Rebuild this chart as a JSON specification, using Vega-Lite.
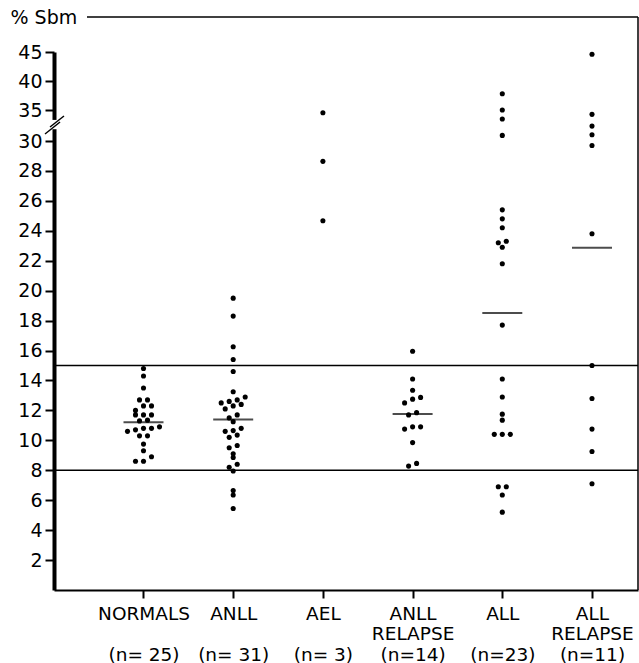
{
  "$schema": "https://vega.github.io/schema/vega-lite/v6.json",
  "width": 584,
  "height": 573,
  "autosize": {"type": "none"},
  "padding": {"left": 54, "top": 17, "right": 1, "bottom": 73},
  "background": "white",
  "config": {
    "view": {"stroke": null},
    "font": "DejaVu Sans",
    "axis": {"ticks": true, "tickOpacity": 1, "tickColor": "#000000", "tickWidth": 2, "domainColor": "#000000"},
    "axisY": {
      "values": [2, 4, 6, 8, 10, 12, 14, 16, 18, 20, 22, 24, 26, 28, 30, 35, 40, 45],
      "labelOverlap": false, "labelBound": false, "labelFlush": false, "labelSeparation": 0, "grid": false,
      "titleAngle": 0, "titleX": -44, "titleY": 0, "titleAlign": "left", "titleBaseline": "middle",
      "titleFont": "DejaVu Sans", "titleFontSize": 19, "titleFontWeight": "normal", "titleColor": "black",
      "labelFont": "DejaVu Sans", "labelFontSize": 19, "labelColor": "black", "labelPadding": 3,
      "ticks": true, "tickSize": 9, "tickWidth": 2, "tickColor": "#000000", "tickOpacity": 1, "domainColor": "black", "domainWidth": 4
    },
    "axisX": {"labelOverlap": false, "labelBound": false, "labelFlush": false, "labelSeparation": 0, "grid": false,
              "labelFont": "DejaVu Sans", "labelFontSize": 18.5, "labelColor": "black", "labelAngle": 0}
  },
  "datasets": {
    "pts": [
      {"cat": "NORMALS", "v": 14.8}, {"cat": "NORMALS", "v": 14.3}, {"cat": "NORMALS", "v": 13.5},
      {"cat": "NORMALS", "v": 12.7}, {"cat": "NORMALS", "v": 12.7}, {"cat": "NORMALS", "v": 12.3},
      {"cat": "NORMALS", "v": 12.3}, {"cat": "NORMALS", "v": 12.0}, {"cat": "NORMALS", "v": 11.7},
      {"cat": "NORMALS", "v": 11.7}, {"cat": "NORMALS", "v": 11.7}, {"cat": "NORMALS", "v": 11.35},
      {"cat": "NORMALS", "v": 11.3}, {"cat": "NORMALS", "v": 10.8}, {"cat": "NORMALS", "v": 10.6},
      {"cat": "NORMALS", "v": 10.8}, {"cat": "NORMALS", "v": 10.7}, {"cat": "NORMALS", "v": 10.9},
      {"cat": "NORMALS", "v": 10.3}, {"cat": "NORMALS", "v": 10.3}, {"cat": "NORMALS", "v": 9.75},
      {"cat": "NORMALS", "v": 9.3}, {"cat": "NORMALS", "v": 8.9}, {"cat": "NORMALS", "v": 8.6},
      {"cat": "NORMALS", "v": 8.6},
      {"cat": "ANLL", "v": 19.5}, {"cat": "ANLL", "v": 18.3}, {"cat": "ANLL", "v": 16.25},
      {"cat": "ANLL", "v": 15.4}, {"cat": "ANLL", "v": 14.6}, {"cat": "ANLL", "v": 13.25},
      {"cat": "ANLL", "v": 12.9}, {"cat": "ANLL", "v": 12.7}, {"cat": "ANLL", "v": 12.6},
      {"cat": "ANLL", "v": 12.5}, {"cat": "ANLL", "v": 12.4}, {"cat": "ANLL", "v": 12.3},
      {"cat": "ANLL", "v": 12.1}, {"cat": "ANLL", "v": 11.7}, {"cat": "ANLL", "v": 11.5},
      {"cat": "ANLL", "v": 11.25}, {"cat": "ANLL", "v": 10.8}, {"cat": "ANLL", "v": 10.65},
      {"cat": "ANLL", "v": 10.6}, {"cat": "ANLL", "v": 10.35}, {"cat": "ANLL", "v": 10.2},
      {"cat": "ANLL", "v": 9.65}, {"cat": "ANLL", "v": 9.5}, {"cat": "ANLL", "v": 9.1},
      {"cat": "ANLL", "v": 8.85}, {"cat": "ANLL", "v": 8.4}, {"cat": "ANLL", "v": 8.2},
      {"cat": "ANLL", "v": 7.95}, {"cat": "ANLL", "v": 6.65}, {"cat": "ANLL", "v": 6.35},
      {"cat": "ANLL", "v": 5.45},
      {"cat": "AEL", "v": 34.56}, {"cat": "AEL", "v": 28.64}, {"cat": "AEL", "v": 24.67},
      {"cat": "ANLL RELAPSE", "v": 15.95}, {"cat": "ANLL RELAPSE", "v": 14.1}, {"cat": "ANLL RELAPSE", "v": 13.35},
      {"cat": "ANLL RELAPSE", "v": 12.87}, {"cat": "ANLL RELAPSE", "v": 12.75}, {"cat": "ANLL RELAPSE", "v": 12.5},
      {"cat": "ANLL RELAPSE", "v": 11.85}, {"cat": "ANLL RELAPSE", "v": 11.7}, {"cat": "ANLL RELAPSE", "v": 10.9},
      {"cat": "ANLL RELAPSE", "v": 10.75}, {"cat": "ANLL RELAPSE", "v": 10.9}, {"cat": "ANLL RELAPSE", "v": 9.85},
      {"cat": "ANLL RELAPSE", "v": 8.46}, {"cat": "ANLL RELAPSE", "v": 8.28},
      {"cat": "ALL", "v": 37.8}, {"cat": "ALL", "v": 35.0}, {"cat": "ALL", "v": 33.55},
      {"cat": "ALL", "v": 30.9}, {"cat": "ALL", "v": 25.4}, {"cat": "ALL", "v": 24.8},
      {"cat": "ALL", "v": 24.2}, {"cat": "ALL", "v": 23.3}, {"cat": "ALL", "v": 23.2},
      {"cat": "ALL", "v": 22.9}, {"cat": "ALL", "v": 21.8}, {"cat": "ALL", "v": 17.7},
      {"cat": "ALL", "v": 14.1}, {"cat": "ALL", "v": 12.9}, {"cat": "ALL", "v": 11.75},
      {"cat": "ALL", "v": 11.35}, {"cat": "ALL", "v": 10.4}, {"cat": "ALL", "v": 10.4},
      {"cat": "ALL", "v": 10.4}, {"cat": "ALL", "v": 6.9}, {"cat": "ALL", "v": 6.9},
      {"cat": "ALL", "v": 6.35}, {"cat": "ALL", "v": 5.2},
      {"cat": "ALL RELAPSE", "v": 44.6}, {"cat": "ALL RELAPSE", "v": 34.3}, {"cat": "ALL RELAPSE", "v": 32.4},
      {"cat": "ALL RELAPSE", "v": 31.0}, {"cat": "ALL RELAPSE", "v": 29.7}, {"cat": "ALL RELAPSE", "v": 23.8},
      {"cat": "ALL RELAPSE", "v": 15.0}, {"cat": "ALL RELAPSE", "v": 12.8}, {"cat": "ALL RELAPSE", "v": 10.75},
      {"cat": "ALL RELAPSE", "v": 9.25}, {"cat": "ALL RELAPSE", "v": 7.1}
    ],
    "med": [
      {"cat": "NORMALS", "m": 11.2},
      {"cat": "ANLL", "m": 11.4},
      {"cat": "ANLL RELAPSE", "m": 11.76},
      {"cat": "ALL", "m": 18.5},
      {"cat": "ALL RELAPSE", "m": 22.87}
    ],
    "lims": [{"lim": 8}, {"lim": 15}]
  },
  "resolve": {"scale": {"x": "independent"}, "axis": {"x": "independent"}},
  "layer": [
    {
      "data": {"name": "pts"},
      "transform": [
        {"calculate": "floor(datum.v / 0.5)", "as": "row"},
        {"joinaggregate": [{"op": "count", "as": "k"}], "groupby": ["cat", "row"]},
        {"window": [{"op": "row_number", "as": "r"}], "groupby": ["cat", "row"], "sort": [{"field": "v", "order": "ascending"}]},
        {"calculate": "datum.r - (datum.k + 1) / 2", "as": "off"}
      ],
      "mark": {"type": "circle", "size": 26, "color": "black", "opacity": 1},
      "encoding": {
        "x": {"field": "cat", "type": "nominal",
              "scale": {"type": "point", "domain": ["NORMALS", "ANLL", "AEL", "ANLL RELAPSE", "ALL", "ALL RELAPSE"], "padding": 0.7553, "align": 0.6605},
              "axis": {
                "orient": "bottom",
                "title": null,
                "labelExpr": "datum.value == 'ANLL RELAPSE' ? ['ANLL', 'RELAPSE'] : datum.value == 'ALL RELAPSE' ? ['ALL', 'RELAPSE'] : datum.value",
                "labelLineHeight": 20,
                "labelPadding": 6,
                "ticks": true,
                "tickSize": 8,
                "tickWidth": 2,
                "tickColor": "#000000",
                "tickOpacity": 1,
                "domainColor": "black",
                "domainWidth": 2
              }},
        "xOffset": {"field": "off", "type": "quantitative", "scale": {"domain": [-3, 3], "range": [-24, 24]}},
        "y": {"field": "v", "type": "quantitative", "title": "% Sbm",
              "scale": {"domain": [0, 30, 35, 45], "range": [573, 124, 93, 35], "nice": false, "zero": false},
              "axis": {"orient": "left", "title": "% Sbm", "labelOverlap": false, "ticks": true, "values": [2, 4, 6, 8, 10, 12, 14, 16, 18, 20, 22, 24, 26, 28, 30, 35, 40, 45]}}
      }
    },
    {
      "data": {"name": "lims"},
      "mark": {"type": "rule", "color": "black", "strokeWidth": 1.3},
      "encoding": {
        "y": {"field": "lim", "type": "quantitative", "title": "% Sbm",
              "axis": {"orient": "left", "title": "% Sbm", "labelOverlap": false, "ticks": true, "values": [2, 4, 6, 8, 10, 12, 14, 16, 18, 20, 22, 24, 26, 28, 30, 35, 40, 45]}}
      }
    },
    {
      "data": {"name": "med"},
      "mark": {"type": "tick", "color": "black", "size": 40, "thickness": 2},
      "encoding": {
        "x": {"field": "cat", "type": "nominal",
              "scale": {"type": "point", "domain": ["NORMALS", "ANLL", "AEL", "ANLL RELAPSE", "ALL", "ALL RELAPSE"], "padding": 0.7553, "align": 0.6605},
              "axis": {
                "orient": "bottom",
                "title": null,
                "labelExpr": "datum.value == 'NORMALS' ? '(n= 25)' : datum.value == 'ANLL' ? '(n= 31)' : datum.value == 'AEL' ? '(n= 3)' : datum.value == 'ANLL RELAPSE' ? '(n=14)' : datum.value == 'ALL' ? '(n=23)' : '(n=11)'",
                "domain": false,
                "ticks": false,
                "tickSize": 0,
                "labelPadding": 55
              }},
        "y": {"field": "m", "type": "quantitative", "title": "% Sbm",
              "axis": {"orient": "left", "title": "% Sbm", "labelOverlap": false, "ticks": true, "values": [2, 4, 6, 8, 10, 12, 14, 16, 18, 20, 22, 24, 26, 28, 30, 35, 40, 45]}}
      }
    },
    {
      "data": {"values": [{}]},
      "mark": {"type": "rule", "color": "black", "strokeWidth": 1.5},
      "encoding": {
        "x": {"datum": 0.0565, "type": "quantitative", "axis": null, "scale": {"domain": [0, 1], "nice": false, "zero": false}},
        "x2": {"datum": 1},
        "y": {"datum": 51.03, "type": "quantitative", "title": "% Sbm",
              "axis": {"orient": "left", "title": "% Sbm", "labelOverlap": false, "ticks": true, "values": [2, 4, 6, 8, 10, 12, 14, 16, 18, 20, 22, 24, 26, 28, 30, 35, 40, 45]}}
      }
    },
    {
      "data": {"values": [{}]},
      "mark": {"type": "rule", "color": "black", "strokeWidth": 1.5},
      "encoding": {
        "x": {"datum": 1, "type": "quantitative", "axis": null, "scale": {"domain": [0, 1], "nice": false, "zero": false}},
        "y": {"datum": 0, "type": "quantitative", "title": "% Sbm",
              "axis": {"orient": "left", "title": "% Sbm", "labelOverlap": false, "ticks": true, "values": [2, 4, 6, 8, 10, 12, 14, 16, 18, 20, 22, 24, 26, 28, 30, 35, 40, 45]}},
        "y2": {"datum": 51.03}
      }
    },
    {
      "data": {"values": [{}]},
      "mark": {"type": "rule", "color": "white", "strokeWidth": 6},
      "encoding": {
        "x": {"datum": 0, "type": "quantitative", "axis": null, "scale": {"domain": [0, 1], "nice": false, "zero": false}},
        "y": {"datum": 31.9, "type": "quantitative", "title": "% Sbm",
              "axis": {"orient": "left", "title": "% Sbm", "labelOverlap": false, "ticks": true, "values": [2, 4, 6, 8, 10, 12, 14, 16, 18, 20, 22, 24, 26, 28, 30, 35, 40, 45]}},
        "y2": {"datum": 33.4}
      }
    },
    {
      "data": {"values": [{}]},
      "mark": {"type": "rule", "color": "black", "strokeWidth": 1.5},
      "encoding": {
        "x": {"datum": -0.0068, "type": "quantitative", "axis": null, "scale": {"domain": [0, 1], "nice": false, "zero": false}},
        "x2": {"datum": 0.0171},
        "y": {"datum": 32.26, "type": "quantitative", "title": "% Sbm",
              "axis": {"orient": "left", "title": "% Sbm", "labelOverlap": false, "ticks": true, "values": [2, 4, 6, 8, 10, 12, 14, 16, 18, 20, 22, 24, 26, 28, 30, 35, 40, 45]}},
        "y2": {"datum": 34.03}
      }
    },
    {
      "data": {"values": [{}]},
      "mark": {"type": "rule", "color": "black", "strokeWidth": 1.5},
      "encoding": {
        "x": {"datum": -0.0154, "type": "quantitative", "axis": null, "scale": {"domain": [0, 1], "nice": false, "zero": false}},
        "x2": {"datum": 0.0103},
        "y": {"datum": 31.13, "type": "quantitative", "title": "% Sbm",
              "axis": {"orient": "left", "title": "% Sbm", "labelOverlap": false, "ticks": true, "values": [2, 4, 6, 8, 10, 12, 14, 16, 18, 20, 22, 24, 26, 28, 30, 35, 40, 45]}},
        "y2": {"datum": 33.06}
      }
    }
  ]
}
